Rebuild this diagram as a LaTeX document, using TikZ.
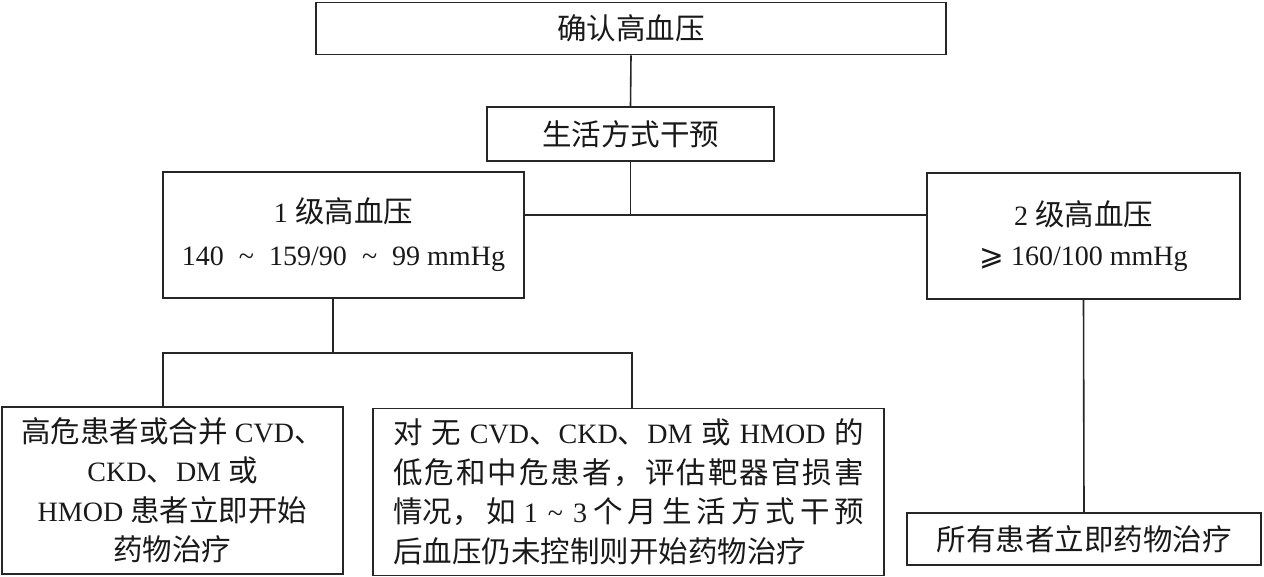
\documentclass[tikz,border=0pt]{standalone}
\usepackage{fontspec}
\setmainfont{Liberation Serif}[Scale=0.95]
\newfontfamily\cjk{Noto Sans CJK SC}
\newfontfamily\symf{DejaVu Sans}
\newcommand\Z[1]{{\cjk #1}}
\newcommand\J[1]{\makebox[471pt][s]{#1}}
\tikzset{
  box/.style={draw=black!85, line width=1.6pt, inner sep=0pt, align=center, text=black!90,
    font=\fontsize{29.5}{39.5}\selectfont},
  conn/.style={draw=black!85, line width=1.6pt}
}
\begin{document}
\begin{tikzpicture}[x=1pt,y=-1pt]
\useasboundingbox (0,0) rectangle (1264,577);
\node[box, minimum width=630pt, minimum height=52pt] (top) at (631,28.5) {\Z{确认高血压}};
\node[box, minimum width=287pt, minimum height=54pt] (life) at (630.5,134) {\Z{生活方式干预}};
\node[box, minimum width=361pt, minimum height=126pt, font=\fontsize{29.5}{43}\selectfont] (g1) at (343.5,235)
  {1 \Z{级高血压}\\140\hspace{8pt} \textasciitilde{}\hspace{8pt} 159/90\hspace{8pt} \textasciitilde{}\hspace{8pt} 99 mmHg};
\node[box, minimum width=313pt, minimum height=126pt, font=\fontsize{29.5}{40}\selectfont] (g2) at (1083.5,236)
  {2 \Z{级高血压}\\{\symf ⩾} 160/100 mmHg};
\node[box, minimum width=341pt, minimum height=167pt] (hr) at (172.5,490.5)
  {\Z{高危患者或合并} CVD\Z{、}\\CKD\Z{、}DM \Z{或}\\HMOD \Z{患者立即开始}\\\Z{药物治疗}};
\node[box, minimum width=511pt, minimum height=167pt, align=left] (mid) at (628.5,492)
  {\J{\Z{对}\hfill\Z{无}\hfill CVD\Z{、}CKD\Z{、}DM\hfill\Z{或}\hfill HMOD\hfill\Z{的}}\\
   \J{\Z{低\hfill 危\hfill 和\hfill 中\hfill 危\hfill 患\hfill 者\hfill ，\hfill 评\hfill 估\hfill 靶\hfill 器\hfill 官\hfill 损\hfill 害}}\\
   \J{\Z{情况，}\hfill\Z{如}\hspace{8pt}1\hspace{10pt}\textasciitilde\hspace{10pt}3\hspace{6pt}\Z{个\hfill 月\hfill 生\hfill 活\hfill 方\hfill 式\hfill 干\hfill 预}}\\
   \Z{后血压仍未控制则开始药物治疗}};
\node[box, minimum width=354pt, minimum height=52pt] (br) at (1084,539) {\Z{所有患者立即药物治疗}};
\coordinate (j1) at (631,215);
\coordinate (j2) at (333,353);
\coordinate (jl) at (163,353);
\coordinate (jr) at (632,353);
\draw[conn] (top.south) -- (life.north);
\draw[conn] (life.south) -- (life.south |- j1);
\draw[conn] (j1 -| g1.east) -- (j1 -| g2.west);
\draw[conn] (j2 |- g1.south) -- (j2);
\draw[conn] (jl |- hr.north) -- (jl) -- (jr) -- (jr |- mid.north);
\draw[conn] (g2.south) -- (br.north);
\end{tikzpicture}
\end{document}
